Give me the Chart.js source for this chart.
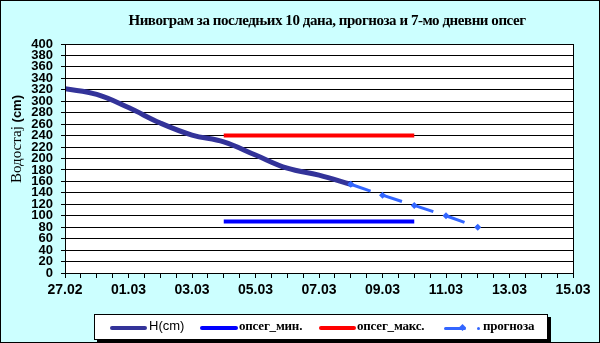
<!DOCTYPE html>
<html>
<head>
<meta charset="utf-8">
<script src="https://cdn.jsdelivr.net/npm/chart.js@4.4.0/dist/chart.umd.min.js"></script>
<style>
  html,body{margin:0;padding:0;}
  #wrap{position:relative;width:600px;height:343px;box-sizing:border-box;border:1px solid #000;
    background:#ccffff;overflow:hidden;}
  #c{position:absolute;left:-1px;top:-1px;}
  #title{position:absolute;left:106px;width:440px;top:11px;text-align:center;
    font:bold 15px "Liberation Serif",serif;letter-spacing:-0.45px;color:#000;white-space:nowrap;}
  #ytitle{position:absolute;left:15px;top:138px;transform:translate(-50%,-50%) rotate(-90deg);
    white-space:nowrap;color:#000;}
  #ytitle .s{font:15px "Liberation Serif",serif;}
  #ytitle .b{font:bold 13px "Liberation Sans",Arial,sans-serif;}
  #legend{position:absolute;left:93px;top:313px;width:452px;height:24px;background:#fff;
    border:1px solid #000;box-shadow:3px 3px 0 #000;}
  .ln{position:absolute;top:11px;height:4px;border-radius:2px;}
  .tx{position:absolute;top:3px;font:bold 13px "Liberation Serif",serif;letter-spacing:-0.2px;white-space:nowrap;}
</style>
</head>
<body>
<div id="wrap">
  <canvas id="c" width="600" height="343"></canvas>
  <div id="title">Нивограм за последњих 10 дана, прогноза и 7-мо дневни опсег</div>
  <div id="ytitle"><span class="s">Водостај </span><span class="b">(cm)</span></div>
  <div id="legend">
    <div class="ln" style="left:15px;width:37px;background:#333399;"></div>
    <div class="tx" style="left:54px;top:3px;font:13px 'Liberation Sans',Arial,sans-serif;letter-spacing:0;">H(cm)</div>
    <div class="ln" style="left:105px;width:38px;background:#0000ff;"></div>
    <div class="tx" style="left:144px;">опсег_мин.</div>
    <div class="ln" style="left:224px;width:37px;background:#ff0000;"></div>
    <div class="tx" style="left:262px;">опсег_макс.</div>
    <div class="ln" style="left:349px;width:22px;height:3px;top:12px;background:#3366ff;"></div>
    <div style="position:absolute;left:365px;top:10px;width:5px;height:5px;background:#3366ff;transform:rotate(45deg);"></div>
    <div style="position:absolute;left:382px;top:12px;width:3px;height:3px;background:#3366ff;border-radius:50%;"></div>
    <div class="tx" style="left:388px;">прогноза</div>
  </div>
</div>
<script>
// дани на x оси (27.02 - 15.03)
const days = ['27.02','28.02','01.03','02.03','03.03','04.03','05.03','06.03','07.03',
  '08.03','09.03','10.03','11.03','12.03','13.03','14.03','15.03'];

// H(cm) - последњих 10 дана
const hDays = ['27.02','28.02','01.03','02.03','03.03','04.03','05.03','06.03','07.03','08.03'];
const hValues = [322, 312, 289, 262, 241, 229, 206, 183, 171, 155];

// 7-мо дневни опсег
const rangeDays = ['04.03','10.03'];
const minValues = [90, 90];
const maxValues = [240, 240];

// прогноза
const fcDays = ['08.03','09.03','10.03','11.03','12.03'];
const fcValues = [155, 136, 118, 100, 80];

const yTicksMin = 0, yTicksMax = 400, yStep = 20;

function pts(dl, vals){
  return dl.map((d,i)=>({x: days.indexOf(d), y: vals[i]}));
}

const plotBg = {
  id:'plotBg',
  beforeDraw(chart){
    const {ctx, chartArea:a} = chart;
    ctx.save();
    ctx.fillStyle = '#fff';
    ctx.fillRect(a.left, a.top, a.right-a.left, a.bottom-a.top);
    ctx.restore();
  },
  afterDraw(chart){
    const {ctx, chartArea:a} = chart;
    ctx.save();
    ctx.strokeStyle = '#000';
    ctx.lineWidth = 1;
    ctx.strokeRect(Math.round(a.left)+0.5, Math.round(a.top)+0.5, Math.round(a.right-a.left), Math.round(a.bottom-a.top));
    ctx.restore();
  }
};

new Chart(document.getElementById('c').getContext('2d'), {
  type:'line',
  data:{
    datasets:[
      {label:'прогноза', data:pts(fcDays, fcValues), borderColor:'#3366ff', backgroundColor:'#3366ff',
        borderWidth:3, borderDash:[21,12], pointStyle:'rectRot', pointRadius:3.5, pointBorderWidth:0, tension:0, order:0},
      {label:'H(cm)', data:pts(hDays, hValues), borderColor:'#333399', borderWidth:5, pointRadius:0,
        tension:0.4, borderCapStyle:'round', order:1},
      {label:'опсег_мин.', data:pts(rangeDays, minValues), borderColor:'#0000ff', borderWidth:4, pointRadius:0, order:2},
      {label:'опсег_макс.', data:pts(rangeDays, maxValues), borderColor:'#ff0000', borderWidth:4, pointRadius:0, order:2}
    ]
  },
  options:{
    responsive:false, animation:false,
    layout:{padding:{top:44, left:0, right:27, bottom:0}},
    plugins:{legend:{display:false}, title:{display:false}, tooltip:{enabled:false}},
    scales:{
      x:{
        type:'linear', min:0, max:days.length-1,
        afterFit(s){ s.height = 70; },
        ticks:{stepSize:0.5, autoSkip:false, maxRotation:0, color:'#000', padding:4,
          font:{family:'"Liberation Sans", Arial, sans-serif', size:14, weight:'bold'},
          callback:(v)=> (Number.isInteger(v) && v%2===0) ? days[v] : ''},
        grid:{drawOnChartArea:false, drawTicks:true, tickLength:5, color:'#000'},
        border:{display:true, color:'#000', width:1}
      },
      y:{
        min:yTicksMin, max:yTicksMax,
        afterFit(s){ s.width = 65; },
        ticks:{stepSize:yStep, autoSkip:false, color:'#000', padding:8,
          font:{family:'"Liberation Sans", Arial, sans-serif', size:13, weight:'bold'}},
        grid:{color:'#000', lineWidth:1, tickLength:4},
        border:{display:true, color:'#000', width:1}
      }
    }
  },
  plugins:[plotBg]
});
</script>
</body>
</html>
